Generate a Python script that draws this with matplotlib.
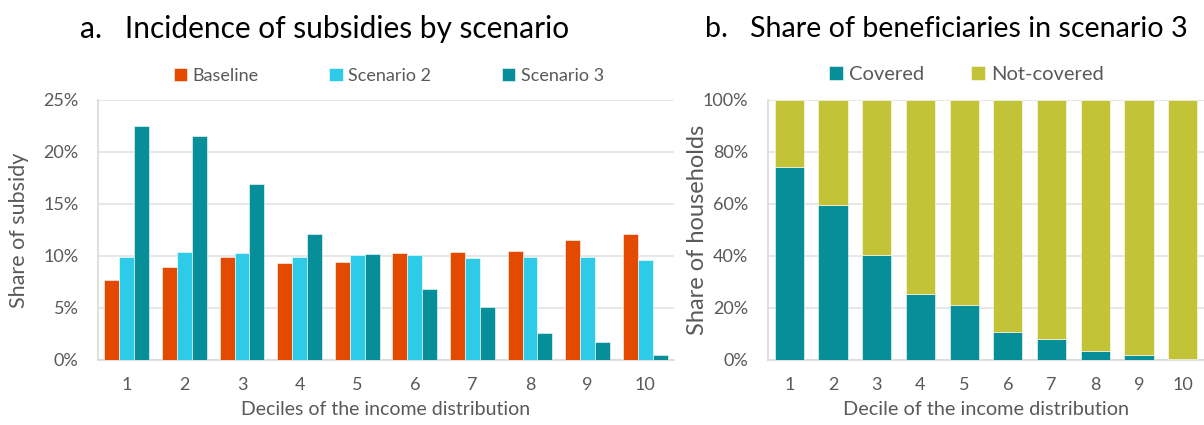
import numpy as np
import matplotlib
matplotlib.use("Agg")
import matplotlib.pyplot as plt
from matplotlib.ticker import PercentFormatter

plt.rcParams['font.family'] = ['Lato', 'DejaVu Sans']

deciles = [str(i) for i in range(1, 11)]

# panel a: share of subsidy (%)
baseline = [7.7, 8.9, 9.9, 9.3, 9.4, 10.3, 10.4, 10.5, 11.5, 12.1]
scenario2 = [9.9, 10.4, 10.3, 9.9, 10.1, 10.1, 9.8, 9.9, 9.9, 9.6]
scenario3 = [22.5, 21.5, 16.9, 12.1, 10.2, 6.8, 5.1, 2.6, 1.7, 0.5]

# panel b: share of households (%)
covered = [74.2, 59.6, 40.4, 25.3, 21.2, 10.9, 8.0, 3.5, 2.0, 0.4]
not_covered = [100 - c for c in covered]

ORANGE = '#E34A00'
CYAN = '#2ECBE8'
TEAL = '#078F99'
OLIVE = '#C2C337'
GRID = '#E3E3E3'
TXT = '#595959'

fig = plt.figure(figsize=(12.04, 4.25), dpi=100)
ax = fig.add_axes([98 / 1204, 1 - 360 / 425, 576 / 1204, 260 / 425])
ax2 = fig.add_axes([767.5 / 1204, 1 - 360 / 425, 437 / 1204, 260 / 425])

x = np.arange(len(deciles))
w = 0.26
ax.bar(x - w, baseline, w, color=ORANGE, edgecolor='white', linewidth=0.4, label='Baseline', zorder=3)
ax.bar(x, scenario2, w, color=CYAN, edgecolor='white', linewidth=0.4, label='Scenario 2', zorder=3)
ax.bar(x + w, scenario3, w, color=TEAL, edgecolor='white', linewidth=0.4, label='Scenario 3', zorder=3)
ax.set_xlim(-0.5, 9.5)
ax.set_ylim(0, 25)
ax.set_yticks([0, 5, 10, 15, 20, 25])
ax.yaxis.set_major_formatter(PercentFormatter(decimals=0))
ax.set_xticks(x, deciles)
ax.set_xlabel('Deciles of the income distribution', fontsize=14, color=TXT, labelpad=6)
ax.set_ylabel('Share of subsidy', fontsize=15.5, color=TXT, labelpad=10)
ax.legend(loc='lower center', bbox_to_anchor=(0.505, 1.02), ncol=3, frameon=False,
          fontsize=13, handlelength=0.75, handleheight=0.75, handletextpad=0.3,
          columnspacing=3.9, labelcolor=TXT, borderaxespad=0.2)

ax2.bar(x, covered, 0.67, color=TEAL, edgecolor='white', linewidth=0.4, label='Covered', zorder=3)
ax2.bar(x, not_covered, 0.67, bottom=covered, color=OLIVE, edgecolor='white', linewidth=0.4,
        label='Not-covered', zorder=3)
ax2.set_xlim(-0.5, 9.5)
ax2.set_ylim(0, 100)
ax2.set_yticks([0, 20, 40, 60, 80, 100])
ax2.yaxis.set_major_formatter(PercentFormatter(decimals=0))
ax2.set_xticks(x, deciles)
ax2.set_xlabel('Decile of the income distribution', fontsize=14.3, color=TXT, labelpad=6)
ax2.set_ylabel('Share of households', fontsize=17, color=TXT, labelpad=-4)
ax2.legend(loc='lower center', bbox_to_anchor=(0.455, 1.02), ncol=2, frameon=False,
           fontsize=14.5, handlelength=0.7, handleheight=0.7, handletextpad=0.3,
           columnspacing=2.3, labelcolor=TXT, borderaxespad=0.2)

fig.text(80 / 1204, 1 - 29 / 425, 'a.   Incidence of subsidies by scenario', fontsize=21.5,
         ha='left', va='center')
fig.text(705 / 1204, 1 - 29 / 425, 'b.   Share of beneficiaries in scenario 3', fontsize=20.6,
         ha='left', va='center')

for a in (ax, ax2):
    a.grid(axis='y', color=GRID, linewidth=1.2, zorder=0)
    a.set_axisbelow(True)
    for s in ('top', 'right'):
        a.spines[s].set_visible(False)
    for s in ('left', 'bottom'):
        a.spines[s].set_color('#D9D9D9')
        a.spines[s].set_linewidth(1.2)
    a.tick_params(length=0, labelsize=13, colors=TXT)
    a.tick_params(axis='x', pad=12)
    a.tick_params(axis='y', pad=14)

fig.savefig('out.png', dpi=100)
